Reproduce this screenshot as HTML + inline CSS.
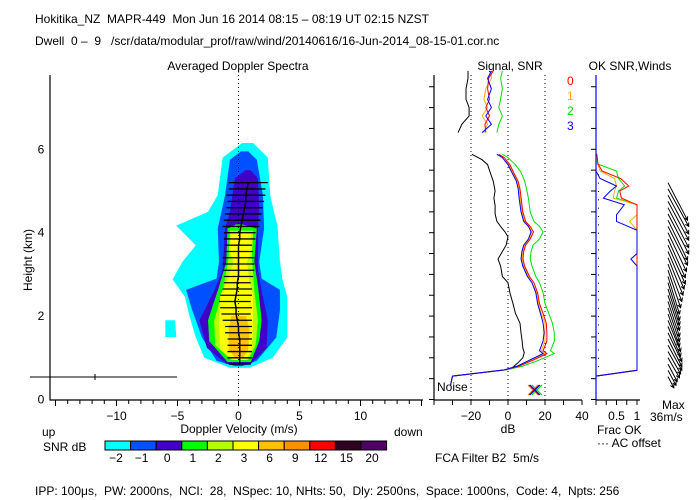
<!DOCTYPE html>
<html><head><meta charset="utf-8">
<style>
body{margin:0;background:#fff;}
svg{display:block;font-family:"Liberation Sans",sans-serif;}
text{font-size:12px;fill:#000;white-space:pre;}
</style></head>
<body>
<svg id="c" width="700" height="500" viewBox="0 0 700 500" xmlns="http://www.w3.org/2000/svg" xml:space="preserve">
<text x="35" y="23">Hokitika_NZ  MAPR-449  Mon Jun 16 2014 08:15 – 08:19 UT 02:15 NZST</text>
<text x="35" y="45">Dwell  0 –  9   /scr/data/modular_prof/raw/wind/20140616/16-Jun-2014_08-15-01.cor.nc</text>
<text x="238" y="70" text-anchor="middle">Averaged Doppler Spectra</text>
<text x="510" y="70" text-anchor="middle">Signal, SNR</text>
<text x="630" y="70" text-anchor="middle">OK SNR,Winds</text>
<text transform="translate(32,260) rotate(-90)" text-anchor="middle" font-size="11">Height (km)</text>
<text x="239" y="433" text-anchor="middle">Doppler Velocity (m/s)</text>
<text x="42" y="436">up</text>
<text x="394" y="436">down</text>
<text x="43" y="451">SNR dB</text>
<text x="508" y="433" text-anchor="middle">dB</text>
<text x="435" y="462">FCA Filter B2  5m/s</text>
<text x="597" y="434">Frac OK</text>
<text x="597" y="447">··· AC offset</text>
<text x="662" y="409">Max</text>
<text x="650" y="421">36m/s</text>
<text x="437" y="391" font-size="11">Noise</text>
<text x="35" y="495">IPP: 100μs,  PW: 2000ns,  NCI:  28,  NSpec: 10, NHts: 50,  Dly: 2500ns,  Space: 1000ns,  Code: 4,  Npts: 256</text>
<g id="g"></g>
</svg>
<script>
// ---- data ----
const heightTicks=[0,2,4,6];
const velTickLabels=[-10,-5,0,5,10];
const dbTickLabels=[-20,0,20,40];
const fracTickLabels=["0.5","1"];
const fracTickVals=[0.5,1];
const cbColors=["#00ffff","#0050ff","#4000c8","#00ff00","#b4ff00","#ffff00","#ffc000","#ff9000","#ff0000","#300020","#500064"];
const cbLabels=["-2","-1","0","1","2","3","6","9","12","15","20"];
// contour levels: [height, vLeft, vRight]
const lvlCyan=[[0.76,-0.7,0.9],[1.0,-2.8,2.8],[1.49,-3.5,4.0],[1.98,-4.0,4.0],[2.46,-4.4,4.0],[2.88,-5.4,3.6],[3.3,-4.6,3.4],[3.7,-3.5,3.3],[4.17,-5.1,3.2],[4.5,-2.5,2.9],[4.9,-1.7,2.6],[5.8,-1.3,2.4],[6.15,0.3,1.2]];
const lvlBlue=[[0.8,-0.3,0.3],[0.93,-1.8,1.5],[1.49,-3.0,3.1],[2.15,-3.8,3.4],[2.63,-4.3,3.4],[2.9,-1.8,1.9],[3.3,-1.6,1.7],[4.1,-1.7,2.1],[4.9,-1.1,2.0],[5.75,-0.7,1.5],[5.95,0.2,0.8]];
const lvlIndigo=[[0.85,-1.0,1.0],[1.24,-2.6,2.3],[1.9,-3.2,2.4],[2.6,-2.0,1.9],[3.1,-1.3,1.6],[4.1,-1.1,1.6],[4.5,-0.7,1.7],[5.3,-0.3,1.6],[5.5,0.6,1.0]];
const lvlGreen=[[0.9,-0.9,1.0],[1.4,-2.4,1.7],[1.9,-2.5,1.9],[2.7,-1.6,1.6],[3.3,-1.0,1.3],[4.1,-0.9,1.5],[4.2,-0.2,0.3]];
const lvlYG=[[0.95,-0.6,0.8],[1.3,-1.9,1.4],[1.9,-2.0,1.6],[2.6,-1.3,1.3],[3.4,-0.8,1.1],[4.05,-0.7,1.2]];
const lvlYellow=[[0.95,-0.4,0.6],[1.2,-1.5,1.1],[1.8,-1.6,1.2],[2.5,-1.5,1.2],[2.8,-1.0,0.9],[3.3,-0.4,0.7],[3.6,-0.8,1.1],[4.0,-0.6,1.0]];
const lvlGold=[[1.0,-0.3,0.4],[1.2,-0.8,0.8],[1.7,-0.8,0.9],[2.0,-0.6,0.6]];
const lvlBlob=[[1.5,-6.0,-5.1],[1.9,-6.0,-5.2]];
// mean velocity + error bars
const barH=[0.85,1.0,1.15,1.3,1.45,1.6,1.75,1.9,2.05,2.2,2.35,2.5,2.65,2.8,2.95,3.1,3.25,3.4,3.55,3.7,3.85,4.0,4.15,4.3,4.45,4.6,4.75,4.9,5.05,5.2];
const barV=[0.1,0.1,0.1,0.1,0.1,0.0,0.0,-0.1,-0.2,-0.2,-0.3,-0.2,-0.1,-0.1,0.0,0.0,0.0,0.0,0.0,0.0,0.1,0.1,0.2,0.3,0.4,0.5,0.6,0.6,0.7,0.8];
const barW=[0.9,1.0,1.0,1.0,1.0,1.1,1.1,1.2,1.2,1.3,1.3,1.3,1.2,1.1,1.2,1.3,1.3,1.3,1.2,1.1,1.3,1.3,1.5,1.5,1.5,1.5,1.5,1.6,1.5,1.6];
// signal panel
const sigH=[0.35,0.56,0.71,0.76,0.88,1.0,1.12,1.24,1.41,1.6,1.83,2.07,2.3,2.56,2.8,2.95,3.2,3.37,3.55,3.7,3.9,4.02,4.15,4.27,4.45,4.65,4.83,5.0,5.24,5.45,5.63,5.75,5.88];
const sigBlack=[-31,-30,-1.6,2.2,5.4,8,8.8,8,7.6,7,6.5,4,2.7,1,0,-3,-4,-5.4,-3,-1,0,-1.6,-4,-6,-7,-7,-7.6,-7,-8,-9.7,-11,-14,-19.5];
const snrH=[0.35,0.56,0.71,0.8,0.93,1.1,1.17,1.4,1.6,1.83,2.07,2.3,2.56,2.8,2.95,3.2,3.37,3.55,3.7,3.85,4.02,4.15,4.27,4.5,4.83,5.05,5.24,5.45,5.63,5.8,5.88];
const snrRed=[-31,-30,-2,6,13,21,19,21,21,20.7,18.9,17,16,14,11.6,9,8.1,8.5,9.5,12,13.8,12,9.5,8,7.1,6.5,5.4,3,1,-2,-5];
const snrOrange=[-31,-30,-2,5,12,20,18,20,20,20,18,16.5,15.5,13,11,8.5,7.5,8,9,11.5,13,11.5,9,7.5,6.5,6,5,2.5,0.5,-3,-6];
const snrGreen=[-31,-30,-1,8,16,25,23,25,25,24,22,20,19,17,15,13,12,12.5,13.5,17,19,17,14,12,11,10,9,7,4,0,-3];
const snrBlue=[-31,-30,-2,5,11,19,17,19,19.5,19,17.5,16,15,13,10.5,8,7,7.5,8.5,11,12.5,11,8.5,7,6,5.5,4.5,2,0,-3,-6];
const upH=[6.4,6.6,6.8,7.0,7.2,7.45,7.7,7.88];
const upBlack=[-27,-25,-21,-21,-22.7,-22.7,-21.6,-21.6];
const upRed=[-12,-12.5,-10,-12,-10,-11,-10.5,-8];
const upOrange=[-13,-11,-14,-11,-13,-12,-9,-9];
const upGreen=[-6,-5,-3,-5,-4,-3,-4,-3];
const upBlue=[-14,-9,-12,-9,-11,-9,-11,-9];
// frac OK panel
const fracH=[0.4,0.56,0.7,1.0,3.2,3.37,3.5,4.06,4.27,4.43,4.67,4.83,5.0,5.12,5.3,5.48,5.65,5.89];
const fracRed=[0,0,1,1,1,1,1,1,1,1,1,0.62,0.58,0.8,0.6,0.15,0.05,0.02];
const fracOrange=[0,0,1,1,1,1,1,1,0.82,1,1,0.42,0.45,0.5,0.45,0.1,0.04,0.02];
const fracGreen=[0,0,1,1,1,1,1,1,1,1,1,0.5,0.55,0.7,0.55,0.5,0.03,0.02];
const fracBlue=[0,0,1,1,1,0.85,1,1,0.5,0.5,0.69,0.18,0.35,0.5,0.1,0,0,0];
// winds (u east, v north, m/s)
const windH=[0.55,0.7,0.85,1.0,1.15,1.3,1.45,1.6,1.75,1.9,2.05,2.2,2.35,2.5,2.65,2.8,2.95,3.1,3.25,3.4,3.55,3.7,3.85,4.0,4.15,4.3,4.45,4.6,4.75,4.9,5.05,5.2];
const windU=[5,7,8,10,11,12,12,12,11,11,10,10,10,10,10,10,10,11,12,13,14,15,15,16,17,17,18,18,18,18,18,17];
const windV=[-9,-12,-14,-16,-18,-20,-22,-23,-24,-25,-26,-27,-28,-28,-29,-30,-30,-30,-30,-30,-30,-31,-31,-31,-31,-32,-32,-32,-31,-31,-30,-30];

// ---- scales ----
const yH=h=>399.5-41.7*h;
const xV=v=>238.5+12.2*v;
const xD=d=>508+1.85*d;
const xF=f=>596+41*f;
const NS="http://www.w3.org/2000/svg";
const G=document.getElementById('g');
function mk(tag,attrs,parent){const e=document.createElementNS(NS,tag);for(const k in attrs)e.setAttribute(k,attrs[k]);(parent||G).appendChild(e);return e;}

// contours
function contour(lvl,color,name){
  const pts=[];
  lvl.forEach(r=>pts.push(xV(r[1])+","+yH(r[0])));
  for(let i=lvl.length-1;i>=0;i--)pts.push(xV(lvl[i][2])+","+yH(lvl[i][0]));
  const p=mk('polygon',{points:pts.join(' '),fill:color});
  
  
}
contour(lvlCyan,"#00ffff","contour-snr-minus2");
contour(lvlBlob,"#00ffff","contour-snr-minus2-lobe");
contour(lvlBlue,"#0050ff","contour-snr-minus1");
contour(lvlIndigo,"#4000c8","contour-snr-0");
contour(lvlGreen,"#00ff00","contour-snr-1");
contour(lvlYG,"#b4ff00","contour-snr-2");
contour(lvlYellow,"#ffff00","contour-snr-3");
contour(lvlGold,"#ffc000","contour-snr-6");

// axes left panel
let ax=mk('path',{d:`M50,75 V400 H423`,stroke:"#000",fill:"none","stroke-width":1.2});


for(let v=-15;v<=15;v++){const t=mk('line',{x1:xV(v),x2:xV(v),y1:400,y2:v%5==0?406:404,stroke:"#000"});}
velTickLabels.forEach(v=>{const t=mk('text',{x:xV(v),y:420,"text-anchor":"middle"});t.textContent=(v<0?"−":"")+Math.abs(v);});
heightTicks.forEach(h=>{const t=mk('text',{x:41,y:yH(h)+4,"text-anchor":"middle"});t.textContent=h;});
let zl=mk('line',{x1:xV(0),x2:xV(0),y1:75,y2:400,stroke:"#000","stroke-dasharray":"1,3"});


let sb=mk('path',{d:"M30,377 H177 M95,374 V380",stroke:"#000",fill:"none"});



// mean line and bars
let md=barH.map((h,i)=>(i?"L":"M")+xV(barV[i])+","+yH(h)).join(" ");
let ml=mk('path',{d:md,stroke:"#000",fill:"none","stroke-width":1.5});


barH.forEach((h,i)=>{const b=mk('line',{x1:xV(barV[i]-barW[i]),x2:xV(barV[i]+barW[i]),y1:yH(h),y2:yH(h),stroke:"#000","stroke-width":1.3});});

// colorbar
cbColors.forEach((c,i)=>{const r=mk('rect',{x:105+i*25.6,y:441,width:25.6,height:9,fill:c,stroke:"#000"});
const t=mk('text',{x:105+i*25.6+11,y:462,"text-anchor":"middle"});t.textContent=cbLabels[i].replace("-","−");});

// signal panel
let sa=mk('path',{d:"M434,75 V400 H582",stroke:"#000",fill:"none","stroke-width":1.2});


for(let d=-40;d<=40;d+=10){const t=mk('line',{x1:xD(d),x2:xD(d),y1:400,y2:405,stroke:"#000"});}
dbTickLabels.forEach(d=>{const t=mk('text',{x:xD(d),y:420,"text-anchor":"middle"});t.textContent=(d<0?"−":"")+Math.abs(d);});
for(let h=0;h<=7.5;h+=0.5){const t=mk('line',{x1:429,x2:434,y1:yH(h),y2:yH(h),stroke:"#000"});}
[-20,0,20].forEach(d=>{const l=mk('line',{x1:xD(d),x2:xD(d),y1:75,y2:400,stroke:"#000","stroke-dasharray":"1,3"});});
function series(H,V,xf,color,name){const d=H.map((h,i)=>(i?"L":"M")+xf(V[i]).toFixed(1)+","+yH(h).toFixed(1)).join(" ");const p=mk('path',{d:d,stroke:color,fill:"none","stroke-width":1});}
series(sigH,sigBlack,xD,"#000","signal-line");
series(upH,upBlack,xD,"#000","signal-line-upper");
series(snrH,snrGreen,xD,"#00e000","snr-line-2");
series(snrH,snrOrange,xD,"#ffb000","snr-line-1");
series(snrH,snrRed,xD,"#ff0000","snr-line-0");
series(snrH,snrBlue,xD,"#0000ff","snr-line-3");
series(upH,upGreen,xD,"#00e000","snr-upper-2");
series(upH,upOrange,xD,"#ffb000","snr-upper-1");
series(upH,upRed,xD,"#ff0000","snr-upper-0");
series(upH,upBlue,xD,"#0000ff","snr-upper-3");
[["0","#ff0000"],["1","#ffb000"],["2","#00e000"],["3","#0000ff"]].forEach((l,i)=>{const t=mk('text',{x:567,y:85+i*15});t.style.fill=l[1];t.textContent=l[0];});
[["#00e000",3],["#ffb000",-1],["#ff0000",0],["#0000ff",1]].forEach(c=>{const x=xD(14)+c[1],y=390;const p=mk('path',{d:`M${x-5},${y-5} L${x+5},${y+5} M${x-5},${y+5} L${x+5},${y-5}`,stroke:c[0],"stroke-width":1.2});});

// frac panel
let fa=mk('path',{d:"M596,75 V400",stroke:"#0000ff",fill:"none","stroke-width":1.2});


let fb=mk('path',{d:"M596,400 H640",stroke:"#000",fill:"none","stroke-width":1.2});


for(let f=0;f<=1;f+=0.25){const t=mk('line',{x1:xF(f),x2:xF(f),y1:400,y2:405,stroke:"#000"});}
for(let h=0;h<=7.5;h+=0.5){const t=mk('line',{x1:591,x2:596,y1:yH(h),y2:yH(h),stroke:"#000"});}
fracTickVals.forEach((f,i)=>{const t=mk('text',{x:xF(f),y:420,"text-anchor":"middle"});t.textContent=fracTickLabels[i];});
series(fracH,fracGreen,xF,"#00e000","frac-ok-2");
series(fracH,fracOrange,xF,"#ffb000","frac-ok-1");
series(fracH,fracRed,xF,"#ff0000","frac-ok-0");
series(fracH,fracBlue,xF,"#0000ff","frac-ok-3");
for(let h=0.8;h<=5.6;h+=0.2){const d=mk('rect',{x:598,y:yH(h),width:1,height:1,fill:"#000"});}

// winds
windH.forEach((h,i)=>{const x0=668,y0=yH(h),x1=x0+windU[i]*1.15,y1=y0-windV[i]*1.25;
const a=Math.atan2(y1-y0,x1-x0);const hx1=x1-4*Math.cos(a-0.5),hy1=y1-4*Math.sin(a-0.5),hx2=x1-4*Math.cos(a+0.5),hy2=y1-4*Math.sin(a+0.5);
const p=mk('path',{d:`M${x0},${y0.toFixed(1)} L${x1.toFixed(1)},${y1.toFixed(1)} M${hx1.toFixed(1)},${hy1.toFixed(1)} L${x1.toFixed(1)},${y1.toFixed(1)} L${hx2.toFixed(1)},${hy2.toFixed(1)}`,stroke:"#000",fill:"none","stroke-width":1});

});
</script>
</body></html>
